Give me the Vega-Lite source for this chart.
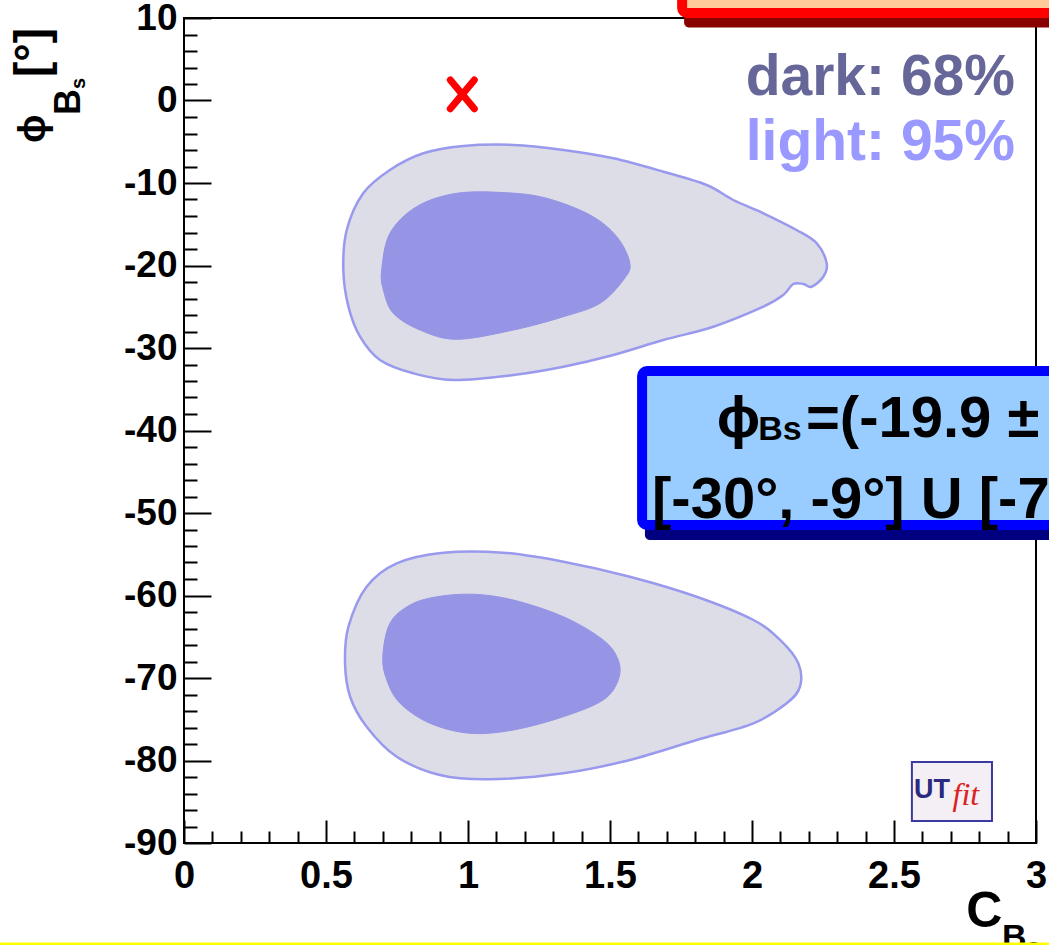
{
  "$schema": "https://vega.github.io/schema/vega-lite/v6.json",
  "width": 852,
  "height": 825,
  "autosize": "none",
  "padding": {"left": 184, "top": 18, "right": 13, "bottom": 102},
  "background": "white",
  "config": {
    "view": {"stroke": "black", "strokeWidth": 2},
    "font": "Liberation Sans"
  },
  "datasets": {
    "outer": [
      {"c":"up","i":0,"x":0.561,"y":-20.55},{"c":"up","i":1,"x":0.573,"y":-15.70},{"c":"up","i":2,"x":0.631,"y":-11.25},{"c":"up","i":3,"x":0.725,"y":-8.42},{"c":"up","i":4,"x":0.843,"y":-6.40},{"c":"up","i":5,"x":0.983,"y":-5.52},{"c":"up","i":6,"x":1.160,"y":-5.39},{"c":"up","i":7,"x":1.336,"y":-6.00},{"c":"up","i":8,"x":1.512,"y":-7.01},{"c":"up","i":9,"x":1.688,"y":-8.63},{"c":"up","i":10,"x":1.840,"y":-10.24},{"c":"up","i":11,"x":1.934,"y":-12.06},{"c":"up","i":12,"x":2.040,"y":-13.67},{"c":"up","i":13,"x":2.157,"y":-15.70},{"c":"up","i":14,"x":2.228,"y":-17.31},{"c":"up","i":15,"x":2.263,"y":-19.73},{"c":"up","i":16,"x":2.251,"y":-21.36},{"c":"up","i":17,"x":2.210,"y":-22.57},{"c":"up","i":18,"x":2.181,"y":-22.24},{"c":"up","i":19,"x":2.145,"y":-22.24},{"c":"up","i":20,"x":2.110,"y":-23.58},{"c":"up","i":21,"x":2.040,"y":-24.99},{"c":"up","i":22,"x":1.864,"y":-27.42},{"c":"up","i":23,"x":1.688,"y":-29.03},{"c":"up","i":24,"x":1.512,"y":-30.85},{"c":"up","i":25,"x":1.336,"y":-32.27},{"c":"up","i":26,"x":1.160,"y":-33.27},{"c":"up","i":27,"x":0.948,"y":-33.88},{"c":"up","i":28,"x":0.807,"y":-33.07},{"c":"up","i":29,"x":0.690,"y":-31.45},{"c":"up","i":30,"x":0.620,"y":-28.63},{"c":"up","i":31,"x":0.579,"y":-24.99},
      {"c":"lo","i":0,"x":0.567,"y":-68.22},{"c":"lo","i":1,"x":0.579,"y":-63.78},{"c":"lo","i":2,"x":0.643,"y":-58.93},{"c":"lo","i":3,"x":0.749,"y":-56.10},{"c":"lo","i":4,"x":0.913,"y":-54.81},{"c":"lo","i":5,"x":1.124,"y":-54.81},{"c":"lo","i":6,"x":1.336,"y":-55.90},{"c":"lo","i":7,"x":1.570,"y":-57.72},{"c":"lo","i":8,"x":1.805,"y":-60.15},{"c":"lo","i":9,"x":2.005,"y":-62.97},{"c":"lo","i":10,"x":2.099,"y":-65.39},{"c":"lo","i":11,"x":2.163,"y":-68.22},{"c":"lo","i":12,"x":2.169,"y":-71.05},{"c":"lo","i":13,"x":2.122,"y":-73.07},{"c":"lo","i":14,"x":2.005,"y":-75.49},{"c":"lo","i":15,"x":1.805,"y":-77.52},{"c":"lo","i":16,"x":1.570,"y":-79.94},{"c":"lo","i":17,"x":1.336,"y":-81.55},{"c":"lo","i":18,"x":1.077,"y":-82.28},{"c":"lo","i":19,"x":0.901,"y":-81.76},{"c":"lo","i":20,"x":0.749,"y":-79.54},{"c":"lo","i":21,"x":0.643,"y":-75.90},{"c":"lo","i":22,"x":0.585,"y":-72.27}
    ],
    "inner": [
      {"c":"up","i":0,"x":0.696,"y":-20.55},{"c":"up","i":1,"x":0.725,"y":-16.10},{"c":"up","i":2,"x":0.819,"y":-12.87},{"c":"up","i":3,"x":0.960,"y":-11.25},{"c":"up","i":4,"x":1.136,"y":-11.18},{"c":"up","i":5,"x":1.277,"y":-11.85},{"c":"up","i":6,"x":1.430,"y":-13.88},{"c":"up","i":7,"x":1.524,"y":-16.51},{"c":"up","i":8,"x":1.570,"y":-19.73},{"c":"up","i":9,"x":1.547,"y":-21.76},{"c":"up","i":10,"x":1.465,"y":-24.58},{"c":"up","i":11,"x":1.336,"y":-26.21},{"c":"up","i":12,"x":1.160,"y":-27.82},{"c":"up","i":13,"x":0.960,"y":-28.95},{"c":"up","i":14,"x":0.831,"y":-27.82},{"c":"up","i":15,"x":0.737,"y":-25.79},{"c":"up","i":16,"x":0.702,"y":-22.97},
      {"c":"lo","i":0,"x":0.700,"y":-67.42},{"c":"lo","i":1,"x":0.725,"y":-63.37},{"c":"lo","i":2,"x":0.796,"y":-61.15},{"c":"lo","i":3,"x":0.890,"y":-60.15},{"c":"lo","i":4,"x":1.019,"y":-59.85},{"c":"lo","i":5,"x":1.160,"y":-60.55},{"c":"lo","i":6,"x":1.336,"y":-62.57},{"c":"lo","i":7,"x":1.476,"y":-65.39},{"c":"lo","i":8,"x":1.529,"y":-67.82},{"c":"lo","i":9,"x":1.529,"y":-70.24},{"c":"lo","i":10,"x":1.476,"y":-72.67},{"c":"lo","i":11,"x":1.336,"y":-74.69},{"c":"lo","i":12,"x":1.160,"y":-76.30},{"c":"lo","i":13,"x":1.007,"y":-76.70},{"c":"lo","i":14,"x":0.866,"y":-75.49},{"c":"lo","i":15,"x":0.761,"y":-73.07},{"c":"lo","i":16,"x":0.714,"y":-70.24}
    ]
  },
  "encoding": {
    "x": {"field": "x", "type": "quantitative", "scale": {"domain": [0, 3], "nice": false, "zero": false}, "axis": null},
    "y": {"field": "y", "type": "quantitative", "scale": {"domain": [-90, 10], "nice": false, "zero": false}, "axis": null}
  },
  "resolve": {"axis": {"x": "independent", "y": "independent"}},
  "layer": [
    {
      "data": {"name": "outer"},
      "mark": {"type": "line", "interpolate": "cardinal-closed", "fill": "#dddde8", "stroke": "#9999ee", "strokeWidth": 2.5},
      "encoding": {
        "x": {"field": "x", "type": "quantitative", "scale": {"domain": [0, 3], "nice": false, "zero": false},
          "axis": {"orient": "bottom", "title": null, "values": [0, 0.5, 1, 1.5, 2, 2.5, 3], "labelExpr": "'' + datum.value", "domain": false, "grid": false,
            "tickSize": -23, "tickWidth": 2, "tickColor": "black", "labelPadding": 37, "labelFontSize": 38, "labelFontWeight": "bold", "labelColor": "black", "labelFont": "Liberation Sans", "labelFlush": false, "labelOverlap": false, "labelBound": false}},
        "y": {"field": "y", "type": "quantitative", "scale": {"domain": [-90, 10], "nice": false, "zero": false},
          "axis": {"orient": "left", "title": null, "values": [-90, -80, -70, -60, -50, -40, -30, -20, -10, 0, 10], "labelExpr": "'' + datum.value", "domain": false, "grid": false,
            "tickSize": -27, "tickWidth": 2, "tickColor": "black", "labelPadding": 34, "labelFontSize": 37, "labelFontWeight": "bold", "labelColor": "black", "labelFont": "Liberation Sans", "labelFlush": false, "labelOverlap": false, "labelBound": false}},
        "detail": {"field": "c"},
        "order": {"field": "i", "type": "quantitative"}
      }
    },
    {
      "data": {"name": "inner"},
      "mark": {"type": "line", "interpolate": "cardinal-closed", "fill": "#9694e4", "stroke": "#9694e4", "strokeWidth": 1},
      "encoding": {
        "x": {"field": "x", "type": "quantitative", "scale": {"domain": [0, 3], "nice": false, "zero": false},
          "axis": {"orient": "bottom", "title": null, "values": [0.1,0.2,0.3,0.4,0.6,0.7,0.8,0.9,1.1,1.2,1.3,1.4,1.6,1.7,1.8,1.9,2.1,2.2,2.3,2.4,2.6,2.7,2.8,2.9], "labels": false, "domain": false, "grid": false, "tickSize": -12, "tickWidth": 2, "tickColor": "black"}},
        "y": {"field": "y", "type": "quantitative", "scale": {"domain": [-90, 10], "nice": false, "zero": false},
          "axis": {"orient": "left", "title": null, "values": [-88,-86,-84,-82,-78,-76,-74,-72,-68,-66,-64,-62,-58,-56,-54,-52,-48,-46,-44,-42,-38,-36,-34,-32,-28,-26,-24,-22,-18,-16,-14,-12,-8,-6,-4,-2,2,4,6,8], "labels": false, "domain": false, "grid": false, "tickSize": -13, "tickWidth": 2, "tickColor": "black"}},
        "detail": {"field": "c"},
        "order": {"field": "i", "type": "quantitative"}
      }
    },
    {
      "data": {"values": [{"x": 0.98, "y": 0.75}]},
      "mark": {"type": "point", "shape": "M-1,-1.2L1,1.2M1,-1.2L-1,1.2", "size": 576, "filled": false, "stroke": "#ff0000", "strokeWidth": 7, "strokeCap": "round", "opacity": 1}
    },
    {
      "data": {"values": [{"x": 1.761, "x2": 3.4, "y": 8.85, "y2": 19}]},
      "mark": {"type": "rect", "fill": "#880000", "cornerRadius": 5},
      "encoding": {"x2": {"field": "x2"}, "y2": {"field": "y2"}}
    },
    {
      "data": {"values": [{"x": 1.754, "x2": 3.4, "y": 10.61, "y2": 19}]},
      "mark": {"type": "rect", "fill": "#ffcc99", "stroke": "#ff0000", "strokeWidth": 10, "cornerRadius": 5},
      "encoding": {"x2": {"field": "x2"}, "y2": {"field": "y2"}}
    },
    {
      "data": {"values": [{"x": 1.623, "x2": 3.4, "y": -33.15, "y2": -53.27}]},
      "mark": {"type": "rect", "fill": "#000080", "cornerRadius": 5},
      "encoding": {"x2": {"field": "x2"}, "y2": {"field": "y2"}}
    },
    {
      "data": {"values": [{"x": 1.613, "x2": 3.4, "y": -32.79, "y2": -51.45}]},
      "mark": {"type": "rect", "fill": "#99ccff", "stroke": "#0000ff", "strokeWidth": 10, "cornerRadius": 5},
      "encoding": {"x2": {"field": "x2"}, "y2": {"field": "y2"}}
    },
    {
      "data": {"values": [{"x": 2.926, "y": 0.67, "t": "dark: 68%"}]},
      "mark": {"type": "text", "align": "right", "baseline": "alphabetic", "fontSize": 57, "fontWeight": "bold", "font": "Liberation Sans", "color": "#666699"},
      "encoding": {"text": {"field": "t"}}
    },
    {
      "data": {"values": [{"x": 2.926, "y": -7.21, "t": "light: 95%"}]},
      "mark": {"type": "text", "align": "right", "baseline": "alphabetic", "fontSize": 57, "fontWeight": "bold", "font": "Liberation Sans", "color": "#9999ff"},
      "encoding": {"text": {"field": "t"}}
    },
    {
      "data": {"values": [
        {"x": 1.876, "y": -40.79, "t": "ϕ"},
        {"x": 2.190, "y": -40.79, "t": "=(-19.9 ±"},
        {"x": 1.648, "y": -50.61, "t": "[-30°, -9°] U [-7"}
      ]},
      "mark": {"type": "text", "align": "left", "baseline": "alphabetic", "fontSize": 58, "fontWeight": "bold", "font": "Liberation Sans", "color": "black"},
      "encoding": {"text": {"field": "t"}}
    },
    {
      "data": {"values": [{"x": 2.022, "y": -41.15, "t": "Bs"}]},
      "mark": {"type": "text", "align": "left", "baseline": "alphabetic", "fontSize": 34, "fontWeight": "bold", "font": "Liberation Sans", "color": "black"},
      "encoding": {"text": {"field": "t"}}
    },
    {
      "data": {"values": [{"x": 2.563, "x2": 2.845, "y": -80.18, "y2": -87.33}]},
      "mark": {"type": "rect", "fill": "#f3eff5", "stroke": "#3a3aa0", "strokeWidth": 2},
      "encoding": {"x2": {"field": "x2"}, "y2": {"field": "y2"}}
    },
    {
      "data": {"values": [{"x": 2.570, "y": -84.55, "t": "UT"}]},
      "mark": {"type": "text", "align": "left", "baseline": "alphabetic", "fontSize": 27, "fontWeight": "bold", "font": "Liberation Sans", "color": "#2a2a80"},
      "encoding": {"text": {"field": "t"}}
    },
    {
      "data": {"values": [{"x": 2.706, "y": -85.4, "t": "fit"}]},
      "mark": {"type": "text", "align": "left", "baseline": "alphabetic", "fontSize": 32, "fontStyle": "italic", "font": "Liberation Serif", "color": "#dd2020"},
      "encoding": {"text": {"field": "t"}}
    },
    {
      "data": {"values": [{"x": -0.489, "y": -5.15, "t": "ϕ"}]},
      "mark": {"type": "text", "align": "left", "baseline": "alphabetic", "angle": 270, "fontSize": 38, "fontWeight": "bold", "font": "Liberation Sans", "color": "black"},
      "encoding": {"text": {"field": "t"}}
    },
    {
      "data": {"values": [{"x": -0.484, "y": 2.85, "t": "[°]"}]},
      "mark": {"type": "text", "align": "left", "baseline": "alphabetic", "angle": 270, "fontSize": 46, "fontWeight": "bold", "font": "Liberation Sans", "color": "black"},
      "encoding": {"text": {"field": "t"}}
    },
    {
      "data": {"values": [{"x": -0.366, "y": -1.76, "t": "B"}]},
      "mark": {"type": "text", "align": "left", "baseline": "alphabetic", "angle": 270, "fontSize": 36, "fontWeight": "bold", "font": "Liberation Sans", "color": "black"},
      "encoding": {"text": {"field": "t"}}
    },
    {
      "data": {"values": [{"x": -0.349, "y": 1.39, "t": "s"}]},
      "mark": {"type": "text", "align": "left", "baseline": "alphabetic", "angle": 270, "fontSize": 20, "fontWeight": "bold", "font": "Liberation Sans", "color": "black"},
      "encoding": {"text": {"field": "t"}}
    },
    {
      "data": {"values": [{"x": 2.754, "y": -100.18, "t": "C"}]},
      "mark": {"type": "text", "align": "left", "baseline": "alphabetic", "fontSize": 50, "fontWeight": "bold", "font": "Liberation Sans", "color": "black"},
      "encoding": {"text": {"field": "t"}}
    },
    {
      "data": {"values": [{"x": 2.880, "y": -102.73, "t": "B"}]},
      "mark": {"type": "text", "align": "left", "baseline": "alphabetic", "fontSize": 34, "fontWeight": "bold", "font": "Liberation Sans", "color": "black"},
      "encoding": {"text": {"field": "t"}}
    },
    {
      "data": {"values": [{"x": 2.968, "y": -103.58, "t": "s"}]},
      "mark": {"type": "text", "align": "left", "baseline": "alphabetic", "fontSize": 24, "fontWeight": "bold", "font": "Liberation Sans", "color": "black"},
      "encoding": {"text": {"field": "t"}}
    },
    {
      "data": {"values": [{"x": -1, "x2": 3.3, "y": -102.24}]},
      "mark": {"type": "rule", "color": "#ffff00", "strokeWidth": 3},
      "encoding": {"x2": {"field": "x2"}}
    }
  ]
}
